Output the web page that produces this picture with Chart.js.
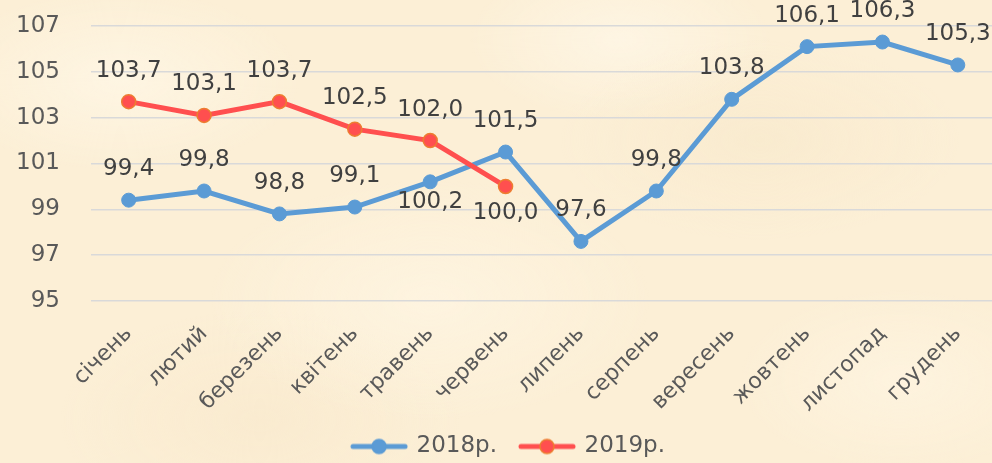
<!DOCTYPE html>
<html>
<head>
<meta charset="utf-8">
<script src="https://cdn.jsdelivr.net/npm/chart.js@4/dist/chart.umd.min.js"></script>
<style>
  html, body { margin: 0; padding: 0; overflow: hidden; width: 992px; height: 463px; }
  body {
    background-color: #fcefd6;
    background-image:
      radial-gradient(ellipse 180px 90px at 120px 80px, rgba(255,248,232,0.7), rgba(255,248,232,0)),
      radial-gradient(ellipse 220px 120px at 430px 300px, rgba(255,247,230,0.6), rgba(255,247,230,0)),
      radial-gradient(ellipse 200px 100px at 760px 140px, rgba(247,231,200,0.5), rgba(247,231,200,0)),
      radial-gradient(ellipse 160px 90px at 900px 380px, rgba(255,246,228,0.6), rgba(255,246,228,0)),
      radial-gradient(ellipse 200px 110px at 260px 420px, rgba(247,230,200,0.45), rgba(247,230,200,0)),
      radial-gradient(ellipse 150px 80px at 620px 40px, rgba(255,249,236,0.6), rgba(255,249,236,0));
  }
  #wrap { position: absolute; left: 0; top: 0; width: 1004px; height: 463px; }
</style>
</head>
<body>
<div id="wrap"><canvas id="c"></canvas></div>
<script>
const categories = ['січень','лютий','березень','квітень','травень','червень','липень','серпень','вересень','жовтень','листопад','грудень'];
const values2018 = [99.4, 99.8, 98.8, 99.1, 100.2, 101.5, 97.6, 99.8, 103.8, 106.1, 106.3, 105.3];
const values2019 = [103.7, 103.1, 103.7, 102.5, 102.0, 100.0, null, null, null, null, null, null];
const seriesNames = ['2018р.', '2019р.'];
const yMin = 95, yMax = 107, yStep = 2;

const FONT = 'DejaVu Sans';
const BLUE = '#5B9BD5';
const RED = '#FF4F4F';
const ORANGE = '#ED7D31';

function legendIcon(lineColor, fill, border) {
  const cv = document.createElement('canvas');
  cv.width = 58; cv.height = 18;
  const g = cv.getContext('2d');
  g.strokeStyle = lineColor; g.lineWidth = 5; g.lineCap = 'round';
  g.beginPath(); g.moveTo(3, 9); g.lineTo(55, 9); g.stroke();
  g.beginPath(); g.arc(29, 9, 7, 0, Math.PI * 2);
  g.fillStyle = fill; g.fill();
  g.lineWidth = 1.5; g.strokeStyle = border; g.stroke();
  return cv;
}
const icons = [legendIcon(BLUE, BLUE, BLUE), legendIcon(RED, RED, ORANGE)];

const valueLabels = {
  id: 'valueLabels',
  afterDatasetsDraw(chart, args, opts) {
    const ctx = chart.ctx;
    ctx.save();
    ctx.font = '23px "' + FONT + '"';
    ctx.fillStyle = '#404040';
    ctx.textAlign = 'center';
    ctx.textBaseline = 'alphabetic';
    chart.data.datasets.forEach((ds, di) => {
      const meta = chart.getDatasetMeta(di);
      const below = (opts.below[di] || []);
      meta.data.forEach((pt, i) => {
        const v = ds.data[i];
        if (v === null || v === undefined) return;
        const txt = v.toFixed(1).replace('.', ',');
        const dy = below.includes(i) ? opts.belowOffset[di] : opts.aboveOffset;
        ctx.fillText(txt, pt.x, pt.y + dy);
      });
    });
    ctx.restore();
  }
};

const layoutTweak = {
  id: 'layoutTweak',
  afterLayout(chart, args, opts) {
    const lg = chart.legend;
    if (lg) {
      lg.left += opts.dx; lg.right += opts.dx;
      lg.top += opts.dy; lg.bottom += opts.dy;
    }
    if (chart.scales.x) chart.scales.x.bottom = chart.height;
  }
};

new Chart(document.getElementById('c'), {
  type: 'line',
  data: {
    labels: categories,
    datasets: [
      {
        label: seriesNames[0],
        data: values2018,
        borderColor: BLUE,
        backgroundColor: BLUE,
        borderWidth: 5,
        pointRadius: 7,
        pointBackgroundColor: BLUE,
        pointBorderColor: BLUE,
        pointBorderWidth: 1,
        tension: 0,
        order: 1
      },
      {
        label: seriesNames[1],
        data: values2019,
        borderColor: RED,
        backgroundColor: RED,
        borderWidth: 5,
        pointRadius: 7,
        pointBackgroundColor: RED,
        pointBorderColor: ORANGE,
        pointBorderWidth: 1.5,
        tension: 0,
        spanGaps: false,
        order: 0
      }
    ]
  },
  options: {
    responsive: true,
    maintainAspectRatio: false,
    animation: false,
    events: [],
    layout: { padding: { top: 26, left: 0, right: 0, bottom: 0 } },
    scales: {
      x: {
        type: 'category',
        offset: true,
        grid: { display: false, drawTicks: false },
        border: { display: false },
        ticks: {
          color: '#595959',
          font: { family: FONT, size: 22 },
          maxRotation: 45,
          minRotation: 45,
          padding: 20,
          autoSkip: false
        },
        afterFit(scale) {
          const lh = scale.chart.legend ? scale.chart.legend.height : 56;
          scale.height = Math.max(10, scale.chart.height - lh - 301);
          scale.paddingLeft = 0; scale.paddingRight = 0;
        }
      },
      y: {
        min: yMin,
        max: yMax,
        grid: { color: '#D9D9D9', lineWidth: 1.5, drawTicks: false },
        border: { display: false },
        ticks: {
          stepSize: yStep,
          color: '#595959',
          font: { family: FONT, size: 23 },
          padding: 31
        },
        afterFit(scale) {
          scale.width = 91;
          scale.paddingTop = 0; scale.paddingBottom = 0;
        }
      }
    },
    plugins: {
      tooltip: { enabled: false },
      legend: {
        position: 'bottom',
        labels: {
          color: '#595959',
          font: { family: FONT, size: 23 },
          usePointStyle: true,
          pointStyleWidth: 52,
          padding: 24,
          sort: (a, b) => a.datasetIndex - b.datasetIndex,
          generateLabels(chart) {
            const items = Chart.defaults.plugins.legend.labels.generateLabels(chart);
            items.forEach((it) => { it.pointStyle = icons[it.datasetIndex]; });
            return items;
          }
        }
      },
      layoutTweak: { dx: 7, dy: 5 },
      valueLabels: {
        below: { 0: [4], 1: [5] },
        belowOffset: { 0: 26, 1: 33 },
        aboveOffset: -25
      }
    }
  },
  plugins: [valueLabels, layoutTweak]
});
</script>
</body>
</html>
